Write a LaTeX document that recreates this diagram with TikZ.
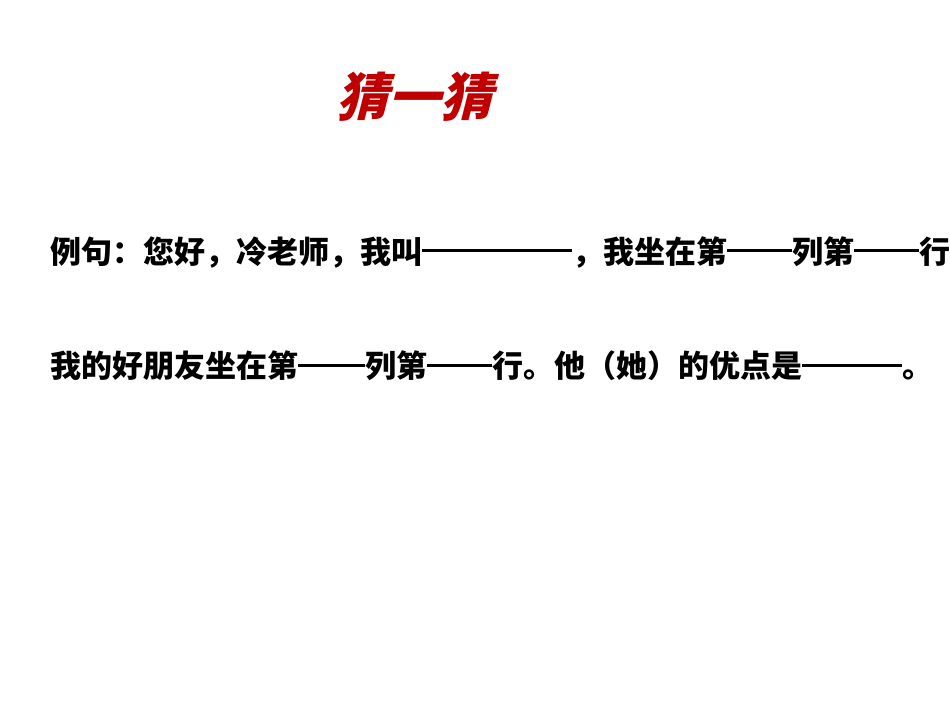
\documentclass[tikz,border=0pt]{standalone}
\usepackage{fontspec}
\newfontfamily\cjk{Noto Sans CJK SC}
\newfontfamily\cjkti{Noto Sans CJK SC}[FakeSlant=0.25]
\definecolor{titred}{HTML}{C00000}
\newcommand{\dsh}[1]{\raisebox{0.36em}{\rule{#1pt}{2.4pt}}}
\begin{document}
\begin{tikzpicture}[x=1pt,y=1pt,
  ln/.style={anchor=west,inner sep=0pt,font=\cjk\bfseries\fontsize{31}{33}\selectfont}]
\useasboundingbox (0,0) rectangle (950,713);
\clip (0,0) rectangle (950,713);
\node[inner sep=0pt,text=titred,font=\cjkti\bfseries\fontsize{52}{56}\selectfont] (title) at (414,616) {猜一猜};
\node[ln] (a1) at (50,461) {例句：您好，冷老师，我叫\dsh{150}，我坐在第\dsh{65}列第\dsh{65}行};
\node[ln] (b1) at (50,347) {我的好朋友坐在第\dsh{67}列第\dsh{65}行。他（她）的优点是\dsh{100}。};
\end{tikzpicture}
\end{document}
